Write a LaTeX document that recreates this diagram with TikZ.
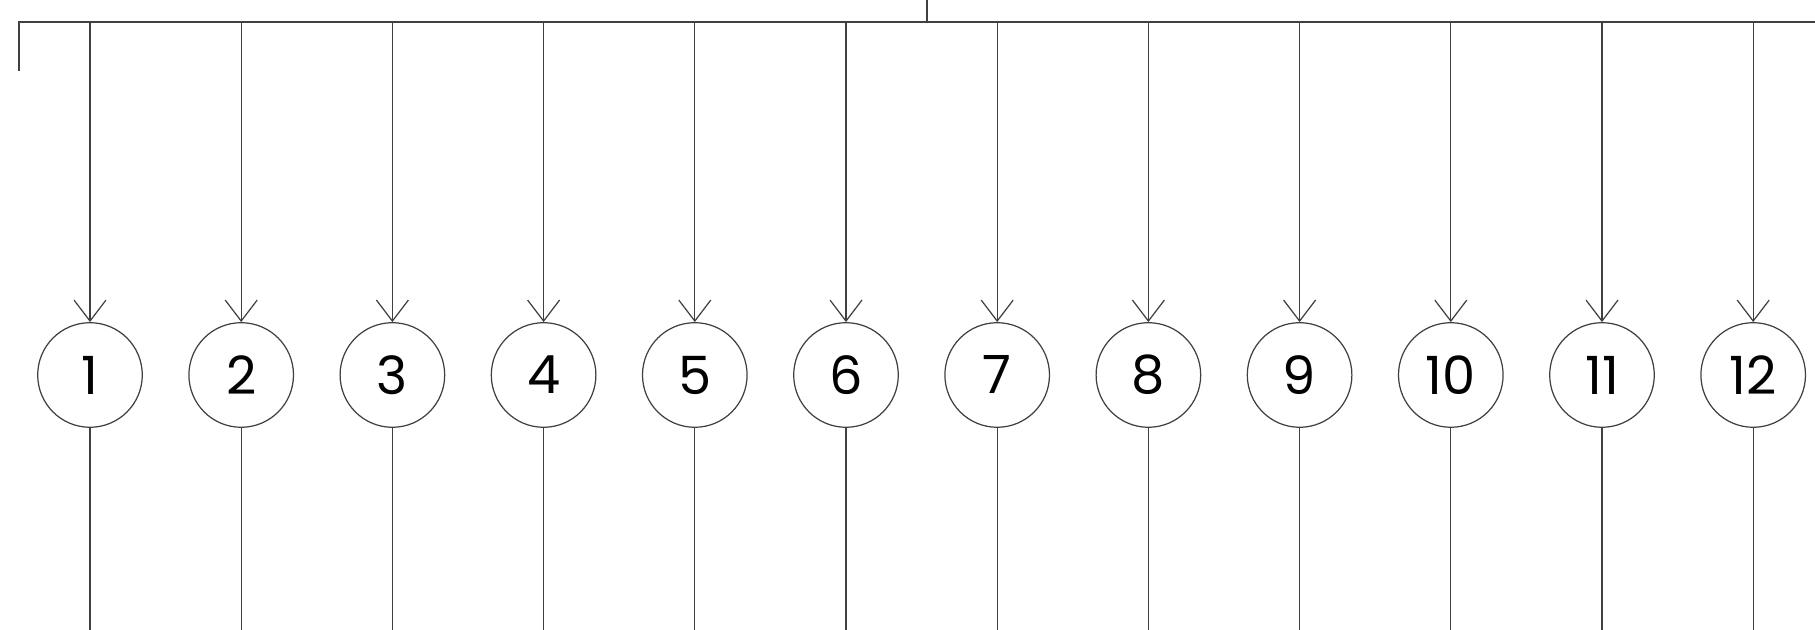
\documentclass[tikz,border=0pt]{standalone}
\usepackage{fontspec}
\setmainfont{Poppins}
\usetikzlibrary{arrows.meta}

\begin{document}
\begin{tikzpicture}[
    line/.style={draw=black!75, line width=0.35pt},
    num/.style={circle, line, minimum size=1.046cm, inner sep=0pt, font=\fontsize{15}{15}\selectfont}]
    \useasboundingbox (0,0) rectangle (18.15,-6.30);

    % Top bus
    \coordinate (busL) at (0.19,-0.22);
    \coordinate (busR) at (18.15,-0.22);
    \coordinate (stub) at (0.19,-0.71);
    \coordinate (feed) at (9.27,0);
    \coordinate (feedJ) at (9.27,-0.22);
    \draw[line] (stub) -- (busL) -- (busR);
    \draw[line] (feed) -- (feedJ);

    % Circles and drops
    \foreach \i in {1,...,12} {
        \pgfmathsetmacro{\xx}{0.90+1.512*(\i-1)}
        \node[num] (c\i) at (\xx,-3.75) {\i};
        \coordinate (t\i) at (\xx,-0.22);
        \coordinate (b\i) at (\xx,-6.30);
        \draw[line, -{Straight Barb[length=2.1mm,width=3.2mm]}] (t\i) -- (c\i);
        \draw[line] (c\i) -- (b\i);
    }
\end{tikzpicture}
\end{document}
